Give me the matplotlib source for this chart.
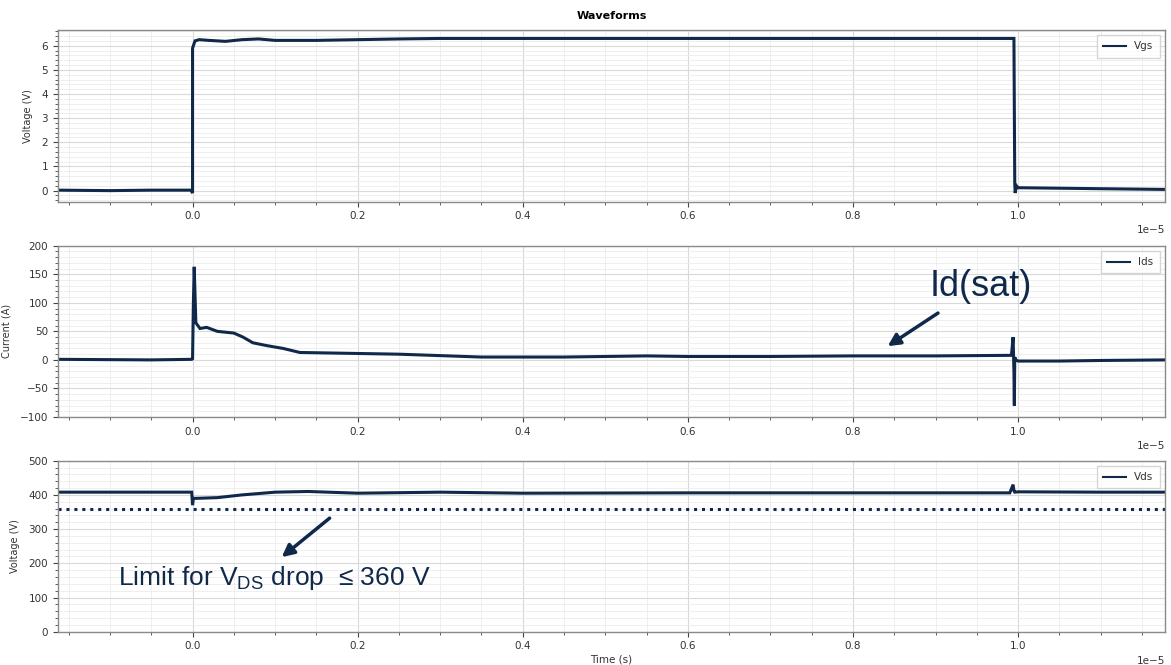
import matplotlib
matplotlib.use("Agg")
import matplotlib.pyplot as plt
from matplotlib.ticker import MultipleLocator

# ---------------- data ----------------
vgs_t = [-1.63e-6, -1.0e-6, -0.5e-6, -0.02e-6, 0.0, 0.0, 0.03e-6, 0.08e-6, 0.2e-6, 0.4e-6,
         0.6e-6, 0.8e-6, 1.0e-6, 1.5e-6, 2.0e-6, 2.5e-6, 3.0e-6, 5.0e-6, 7.0e-6, 9.0e-6,
         9.95e-6, 9.96e-6, 9.965e-6, 9.98e-6, 1.0e-5, 1.05e-5, 1.1e-5, 1.18e-5]
vgs_v = [0.02, 0.0, 0.02, 0.02, -0.1, 5.9, 6.2, 6.25, 6.22, 6.18,
         6.25, 6.28, 6.22, 6.22, 6.25, 6.28, 6.3, 6.3, 6.3, 6.3,
         6.3, 0.3, -0.1, 0.2, 0.12, 0.1, 0.08, 0.05]

ids_t = [-1.63e-6, -0.5e-6, -0.01e-6, 0.0, 0.01e-6, 0.02e-6, 0.04e-6, 0.09e-6, 0.17e-6,
         0.3e-6, 0.5e-6, 0.61e-6, 0.73e-6, 0.9e-6, 1.1e-6, 1.3e-6, 1.7e-6, 2.5e-6, 3.5e-6,
         4.5e-6, 5.5e-6, 6.0e-6, 7.0e-6, 8.0e-6, 9.0e-6, 9.92e-6, 9.94e-6, 9.95e-6,
         9.955e-6, 9.96e-6, 9.97e-6, 1.0e-5, 1.05e-5, 1.1e-5, 1.18e-5]
ids_v = [1, 0, 1, 2, 100, 163, 65, 55, 57,
         50, 47, 40, 30, 25, 20, 13, 12, 10, 5,
         5, 7, 6, 6, 7, 7, 8, 40, -20, -80, 5, 0, -2, -2, -1, 0]

vds_t = [-1.63e-6, -0.5e-6, -0.01e-6, 0.0, 0.01e-6, 0.05e-6, 0.3e-6, 0.6e-6, 1.0e-6,
         1.4e-6, 2.0e-6, 3.0e-6, 4.0e-6, 6.0e-6, 8.0e-6, 9.9e-6, 9.94e-6, 9.95e-6,
         9.96e-6, 1.0e-5, 1.1e-5, 1.18e-5]
vds_v = [408, 408, 408, 370, 390, 390, 392, 400, 408,
         410, 405, 408, 405, 406, 406, 406, 430, 412, 408, 409, 408, 408]

vds_limit = 358

series = [("Vgs", vgs_t, vgs_v, "Voltage (V)", (-0.45, 6.65), 1, 0.2),
          ("Ids", ids_t, ids_v, "Current (A)", (-100, 200), 50, 10),
          ("Vds", vds_t, vds_v, "Voltage (V)", (0, 500), 100, 20)]

# ---------------- figure ----------------
navy = "#10294a"
W, H = 1171, 665
fig = plt.figure(figsize=(W / 100, H / 100), dpi=100)

rows = [(30, 201.5), (245.7, 417), (460.7, 631.7)]
left_px, right_px = 58, 1165
axes = []
for (name, t, v, ylab, ylim, maj, mnr), (top_px, bot_px) in zip(series, rows):
    ax = fig.add_axes([left_px / W, 1 - bot_px / H, (right_px - left_px) / W, (bot_px - top_px) / H])
    ax.plot(t, v, color=navy, lw=2.2, label=name, solid_joinstyle="miter")
    ax.set_xlim(-1.63e-6, 1.178e-5)
    ax.set_ylim(*ylim)
    ax.xaxis.set_major_locator(MultipleLocator(2e-6))
    ax.xaxis.set_minor_locator(MultipleLocator(5e-7))
    ax.yaxis.set_major_locator(MultipleLocator(maj))
    ax.yaxis.set_minor_locator(MultipleLocator(mnr))
    ax.grid(True, which="major", color="#d9d9d9", lw=0.8)
    ax.grid(True, which="minor", color="#ececec", lw=0.6)
    ax.set_axisbelow(True)
    ax.tick_params(which="both", labelsize=7.5, colors="#444444", labelcolor="#333333")
    ax.tick_params(which="major", length=3.5)
    ax.tick_params(which="minor", length=2)
    ax.xaxis.get_offset_text().set_fontsize(7.5)
    ax.xaxis.get_offset_text().set_color("#333333")
    ax.set_ylabel(ylab, fontsize=7, color="#333333", labelpad=6)
    for s in ax.spines.values():
        s.set_color("#8a8a8a")
        s.set_linewidth(1.0)
    leg = ax.legend(loc="upper right", fontsize=7.5, frameon=True, fancybox=False,
                    handlelength=2.2, borderpad=0.6)
    leg.get_frame().set_edgecolor("#cccccc")
    for h in leg.get_lines():
        h.set_linewidth(1.5)
    for txt in leg.get_texts():
        txt.set_color("#333333")
    axes.append(ax)

ax_v, ax_i, ax_d = axes
ax_v.set_title("Waveforms", fontsize=8, fontweight="bold", pad=8)
ax_d.set_xlabel("Time (s)", fontsize=7.5, color="#333333", labelpad=2)

# Vds limit line
ax_d.axhline(vds_limit, color=navy, lw=2.2, linestyle=(0, (1, 1.6)), dash_capstyle="butt")

# Annotations
ann_font = "Liberation Sans"
ax_i.annotate("", xy=(0.842e-5, 24), xytext=(0.903e-5, 82),
              arrowprops=dict(arrowstyle="-|>", lw=2.5, color=navy, mutation_scale=18,
                              shrinkA=0, shrinkB=0))
ax_i.text(0.955e-5, 128, "Id(sat)", fontsize=26, family=ann_font, color=navy,
          ha="center", va="center")

ax_d.annotate("", xy=(0.108e-5, 218), xytext=(0.166e-5, 332),
              arrowprops=dict(arrowstyle="-|>", lw=2.5, color=navy, mutation_scale=18,
                              shrinkA=0, shrinkB=0))
ax_d.text(-0.0905e-5, 157, r"Limit for V$_\mathregular{DS}$ drop  ≤ 360 V", fontsize=19,
          family=ann_font, color=navy, ha="left", va="center")

fig.savefig("out.png", dpi=100)
